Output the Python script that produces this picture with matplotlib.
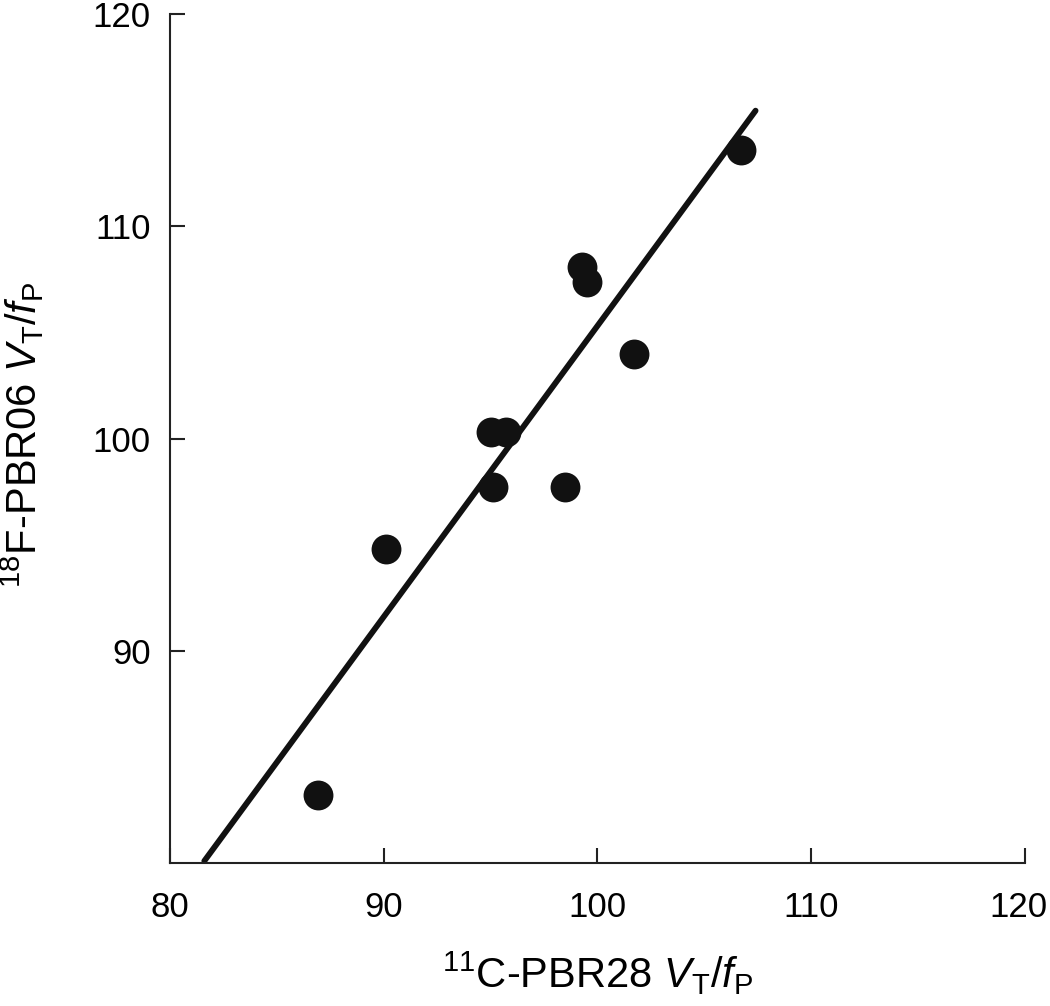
import matplotlib
matplotlib.use('Agg')
import matplotlib.pyplot as plt
import matplotlib.transforms as mtransforms

plt.rcParams['font.family'] = 'Liberation Sans'
plt.rcParams['mathtext.fontset'] = 'custom'
plt.rcParams['mathtext.rm'] = 'Liberation Sans'
plt.rcParams['mathtext.it'] = 'Liberation Sans:italic'
plt.rcParams['mathtext.bf'] = 'Liberation Sans:bold'

# 11C-PBR28 VT/fP (x) vs 18F-PBR06 VT/fP (y)
pbr28 = [86.9, 90.1, 95.0, 95.7, 95.1, 98.5, 99.3, 99.5, 101.7, 106.7]
pbr06 = [83.2, 94.8, 100.3, 100.3, 97.7, 97.7, 108.1, 107.4, 104.0, 113.6]

# fitted line end points
fit_x = [81.6, 107.4]
fit_y = [80.1, 115.45]

xticks = [80, 90, 100, 110, 120]
yticks = [90, 100, 110, 120]

fig = plt.figure(figsize=(10.5, 10.06), dpi=100)
ax = fig.add_axes([0.162, 0.142, 0.814, 0.844])

ax.plot(fit_x, fit_y, color='#111111', lw=4.2, solid_capstyle='round', zorder=2)
ax.plot(pbr28, pbr06, 'o', color='#111111', ms=21.5, mew=0, zorder=3)

ax.set_xlim(80, 120)
ax.set_ylim(80, 120)
ax.set_xticks(xticks)
ax.set_yticks(yticks)

for s in ['top', 'right']:
    ax.spines[s].set_visible(False)
for s in ['left', 'bottom']:
    ax.spines[s].set_linewidth(1.5)
    ax.spines[s].set_color('#222222')

ax.tick_params(direction='in', length=11, width=1.5, color='#222222',
               labelsize=25, pad=20)
ax.tick_params(axis='y', pad=14)

# last x label sits against the right edge, nudge it in a bit
lab = ax.get_xticklabels()[-1]
lab.set_transform(lab.get_transform() +
                  mtransforms.ScaledTranslation(-6/100, 0, fig.dpi_scale_trans))

ax.set_xlabel(r'$^{11}$C-PBR28 $V_\mathrm{T}/f_\mathrm{P}$', fontsize=30)
ax.set_ylabel(r'$^{18}$F-PBR06 $V_\mathrm{T}/f_\mathrm{P}$', fontsize=30)
ax.xaxis.set_label_coords(0.5, -0.102)
ax.yaxis.set_label_coords(-0.145, 0.505)

fig.savefig('out.png', dpi=100)
